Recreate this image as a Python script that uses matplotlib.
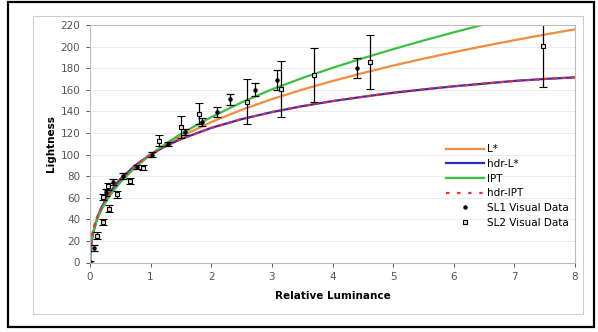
"""
Lightness vs relative luminance: L*, hdr-L*, IPT, hdr-IPT models against SL1/SL2 visual data.
"""
import matplotlib
matplotlib.use("Agg")
import matplotlib.pyplot as plt
from matplotlib.lines import Line2D
from matplotlib.patches import Rectangle

# --- model curves ---
lum = [0, 0.002, 0.005, 0.01, 0.02, 0.035, 0.05, 0.075, 0.1, 0.15, 0.2, 0.3, 0.4, 0.5,
       0.75, 1, 1.25, 1.5, 2, 2.5, 3, 3.5, 4, 4.5, 5, 5.5, 6, 6.5, 7, 7.5, 8]
l_star = [0, 1.8, 4.5, 9.0, 15.5, 21.9, 26.7, 32.9, 37.8, 45.6, 51.8, 61.7, 69.5, 76.1,
          89.4, 100, 109.0, 116.8, 130.1, 141.4, 151.3, 160.1, 168.1, 175.5, 182.4, 188.8,
          194.8, 200.5, 205.9, 211.1, 216.0]
hdr_l = [0, 4.5, 7.5, 11.0, 16.2, 21.8, 26.3, 32.3, 37.3, 45.5, 51.9, 62.3, 70.4, 77.2,
         90.2, 100, 107.9, 114.3, 124.7, 132.8, 139.3, 144.8, 149.5, 153.5, 157.2, 160.3,
         163.2, 165.7, 168.2, 170.0, 171.5]
ipt = [0, 6.9, 10.3, 13.8, 18.6, 23.7, 27.6, 32.8, 37.2, 44.2, 50.1, 59.6, 67.4, 74.2,
       88.4, 100, 110.1, 119.1, 134.7, 148.3, 160.4, 170.8, 180.3, 189.2, 197.6, 205.6,
       213.2, 220.5, 227.5, 234.3, 240.8]
hdr_ipt = [0, 8.0, 12.0, 16.0, 21.0, 26.0, 30.0, 35.0, 39.5, 46.5, 52.5, 62.5, 70.4, 77.2,
           90.2, 100, 107.9, 114.3, 124.7, 132.8, 139.3, 144.8, 149.5, 153.5, 157.2, 160.3,
           163.2, 165.7, 168.2, 170.0, 171.5]

# --- visual data ---
sl1_x = [0.0, 0.07, 0.26, 0.38, 0.54, 0.77, 1.02, 1.29, 1.56, 1.84, 2.10, 2.31, 2.72, 3.08, 4.40]
sl1_y = [0.5, 13.5, 65, 74.5, 80, 88.5, 100, 110, 121, 130, 139.5, 151, 160, 169, 180]
sl1_err = [1, 3, 3, 3, 3, 2, 2, 2, 3, 4, 4.5, 5, 6, 9, 9]

sl2_x = [0.12, 0.22, 0.31, 0.22, 0.30, 0.45, 0.66, 0.87, 1.14, 1.50, 1.80, 2.59, 3.15, 3.70, 4.62, 7.47]
sl2_y = [25, 37.5, 50, 60.5, 70.5, 63, 75.5, 88, 113, 125.5, 138, 149, 161, 174, 186, 200.5]
sl2_err = [3, 3, 3, 3, 3, 3, 3, 2, 5, 10, 10, 21, 26, 25, 25, 38]

W, H = 598, 332
fig = plt.figure(figsize=(W / 100, H / 100), dpi=100)
fig.patch.set_facecolor("white")

# outer black frame and inner grey chart frame
fig.patches.append(Rectangle((8 / W, 1 - 327 / H), 586 / W, 325 / H, transform=fig.transFigure,
                             fill=False, edgecolor="black", linewidth=1.6))
fig.patches.append(Rectangle((33 / W, 1 - 314 / H), 550 / W, 298 / H, transform=fig.transFigure,
                             fill=False, edgecolor="#cccccc", linewidth=0.8))

ax = fig.add_axes([90 / W, 1 - 262.5 / H, 485 / W, 237.5 / H])

lw = 1.6
dash = (0, (2, 2))
ax.plot(lum, l_star, color="#f28b3c", linewidth=lw, label="L*")
ax.plot(lum, hdr_l, color="#2b2bc8", linewidth=lw, label="hdr-L*")
ax.plot(lum, ipt, color="#3cc040", linewidth=lw, label="IPT")
ax.plot(lum, hdr_ipt, color="#e8302a", linewidth=lw, linestyle=dash, label="hdr-IPT")

ax.errorbar(sl1_x, sl1_y, yerr=sl1_err, fmt="o", color="black", markersize=2.2,
            elinewidth=0.9, capsize=3, capthick=0.9, label="SL1 Visual Data")
ax.errorbar(sl2_x, sl2_y, yerr=sl2_err, fmt="s", color="black", markerfacecolor="#dddddd",
            markeredgecolor="black", markeredgewidth=0.8, markersize=3.2,
            elinewidth=0.9, capsize=3, capthick=0.9, label="SL2 Visual Data")

ax.set_xlim(0, 8)
ax.set_ylim(0, 220)
ax.set_xticks(range(0, 9))
ax.set_yticks(range(0, 221, 20))
ax.grid(axis="y", color="#ececec", linewidth=0.7)
ax.set_axisbelow(True)
for s in ax.spines.values():
    s.set_color("#bbbbbb")
    s.set_linewidth(0.8)
ax.tick_params(labelsize=7.5, colors="#555555", length=3, width=0.7, pad=4)

ax.set_xlabel("Relative Luminance", fontsize=7.5, fontweight="bold", labelpad=6)
ax.set_ylabel("Lightness", fontsize=7.5, fontweight="bold", labelpad=3)

handles = [
    Line2D([], [], color="#f28b3c", linewidth=lw),
    Line2D([], [], color="#2b2bc8", linewidth=lw),
    Line2D([], [], color="#3cc040", linewidth=lw),
    Line2D([], [], color="#e8302a", linewidth=lw, linestyle=(0, (1.5, 3.5))),
    Line2D([], [], color="black", marker="o", markersize=2.2, linestyle="none"),
    Line2D([], [], color="black", marker="s", markersize=3.2, markerfacecolor="#dddddd",
           markeredgewidth=0.8, linestyle="none"),
]
labels = ["L*", "hdr-L*", "IPT", "hdr-IPT", "SL1 Visual Data", "SL2 Visual Data"]
ax.legend(handles, labels, loc="lower right", bbox_to_anchor=(1.0, 0.12), frameon=False,
          fontsize=7.5, handlelength=3.6, handletextpad=0.3, labelspacing=0.45,
          borderaxespad=0.2)

fig.savefig("out.png", dpi=100)
